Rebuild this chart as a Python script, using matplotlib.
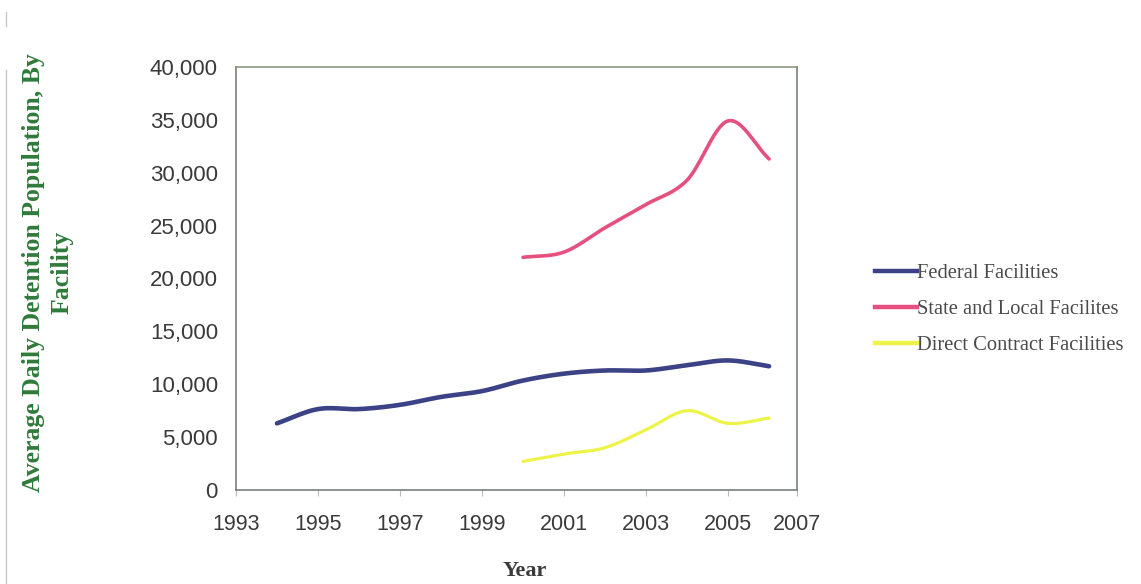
import numpy as np
import matplotlib
matplotlib.use("Agg")
import matplotlib.pyplot as plt
from matplotlib.lines import Line2D

# Average daily detention population by facility type
federal_years = [1994, 1995, 1996, 1997, 1998, 1999, 2000, 2001, 2002, 2003, 2004, 2005, 2006]
federal_vals = [6300, 7650, 7650, 8050, 8800, 9350, 10350, 11000, 11300, 11300, 11800, 12250, 11700]

state_years = [2000, 2001, 2002, 2003, 2004, 2005, 2006]
state_vals = [22000, 22500, 24800, 27000, 29300, 34900, 31300]

contract_years = [2000, 2001, 2002, 2003, 2004, 2005, 2006]
contract_vals = [2700, 3400, 4000, 5700, 7500, 6300, 6800]

series_names = ["Federal Facilities", "State and Local Facilites", "Direct Contract Facilities"]
series_colors = ["#3c4286", "#e5507f", "#eef447"]

x_tick_labels = ["1993", "1995", "1997", "1999", "2001", "2003", "2005", "2007"]
y_ticks = [0, 5000, 10000, 15000, 20000, 25000, 30000, 35000, 40000]

# the category axis stops a little short of the final label year
x_min, x_max = 1993, 2006.68


def smooth(xs, ys, n=30):
    """Catmull-Rom style smoothing through every data point."""
    xs = np.asarray(xs, float)
    ys = np.asarray(ys, float)
    m = len(xs)
    tx = np.zeros(m)
    ty = np.zeros(m)
    for i in range(m):
        a = max(i - 1, 0)
        b = min(i + 1, m - 1)
        tx[i] = (xs[b] - xs[a]) / (b - a) if b != a else 0
        ty[i] = (ys[b] - ys[a]) / (b - a) if b != a else 0
    out_x, out_y = [], []
    t = np.linspace(0, 1, n)
    h00 = 2 * t**3 - 3 * t**2 + 1
    h10 = t**3 - 2 * t**2 + t
    h01 = -2 * t**3 + 3 * t**2
    h11 = t**3 - t**2
    for i in range(m - 1):
        out_x.extend(h00 * xs[i] + h10 * tx[i] + h01 * xs[i + 1] + h11 * tx[i + 1])
        out_y.extend(h00 * ys[i] + h10 * ty[i] + h01 * ys[i + 1] + h11 * ty[i + 1])
    return np.array(out_x), np.array(out_y)


fig = plt.figure(figsize=(11.41, 5.84), dpi=100)
ax = fig.add_axes([0.2068, 0.161, 0.4917, 0.7243])

data = [(federal_years, federal_vals), (state_years, state_vals), (contract_years, contract_vals)]
widths = [3.3, 2.6, 2.3]
for (xs, ys), name, col, lw in zip(data, series_names, series_colors, widths):
    sx, sy = smooth(xs, ys)
    ax.plot(sx, sy, color=col, lw=lw, label=name, solid_capstyle="round")

ax.set_xlim(x_min, x_max)
ax.set_ylim(0, 40000)
tick_pos = [int(s) for s in x_tick_labels[:-1]] + [x_max]
ax.set_xticks(tick_pos)
ax.set_xticklabels(x_tick_labels)
ax.set_yticks(y_ticks)
ax.set_yticklabels([f"{v:,}" for v in y_ticks])

for sp in ax.spines.values():
    sp.set_color("#7a7f7a")
    sp.set_linewidth(1.2)
ax.spines["top"].set_color("#8a9a82")

ax.tick_params(axis="x", length=4, color="#b8b8b8", labelsize=15.5, labelcolor="#3a3a3a", pad=13)
ax.tick_params(axis="y", length=0, labelsize=16, labelcolor="#3a3a3a", pad=13)
for lbl in ax.get_xticklabels() + ax.get_yticklabels():
    lbl.set_fontfamily("Liberation Sans")

fig.text(0.042, 0.533, "Average Daily Detention Population, By\nFacility",
         rotation=90, ha="center", va="center", multialignment="center",
         family="Liberation Serif", fontweight="bold", fontsize=18.5,
         color="#2f7a3a", linespacing=1.3)
fig.text(0.46, 0.022, "Year", ha="center", va="center",
         family="Liberation Serif", fontweight="bold", fontsize=16, color="#3a3a3a")

handles = [Line2D([], [], color=c, lw=3.2) for c in series_colors]
leg = fig.legend(handles, series_names, loc="center left",
                 bbox_to_anchor=(0.751, 0.47), frameon=False,
                 prop={"family": "Liberation Serif", "size": 14.8},
                 handlelength=2.0, handletextpad=0.0, labelspacing=0.8)
for t in leg.get_texts():
    t.set_color("#4a4a4a")

# faint margin rule along the left edge
fig.add_artist(Line2D([0.005, 0.005], [0.0, 0.88], transform=fig.transFigure,
                      color="#c8c8c8", lw=1.0))
fig.add_artist(Line2D([0.005, 0.005], [0.955, 0.98], transform=fig.transFigure,
                      color="#c8c8c8", lw=1.0))

fig.savefig("out.png", dpi=100)
